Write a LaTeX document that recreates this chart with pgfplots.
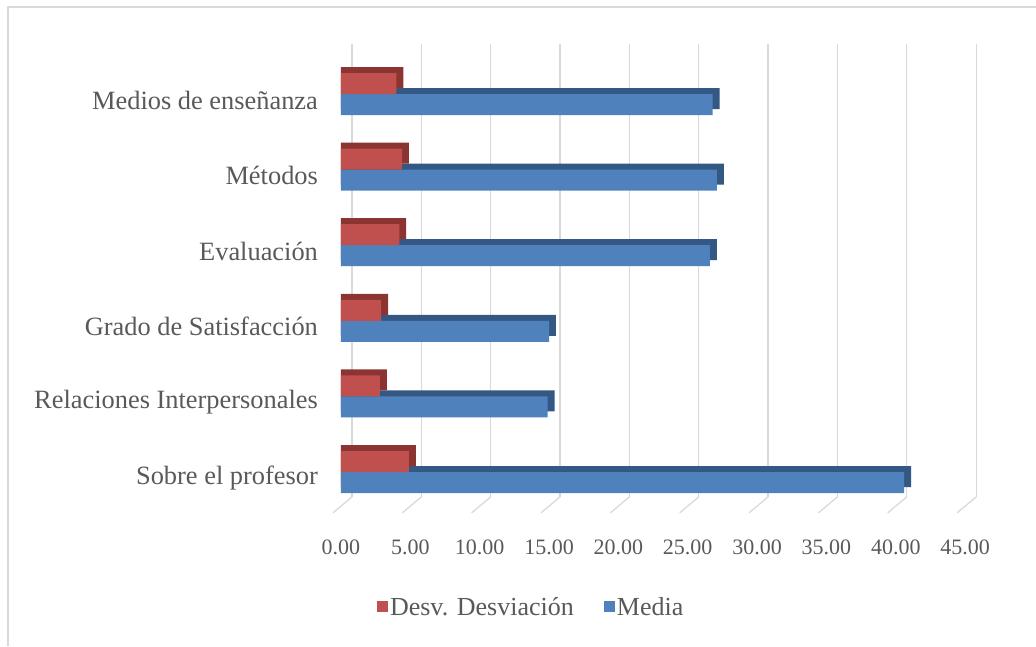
\documentclass[border=0pt]{standalone}
\usepackage{pgfplots}
\pgfplotsset{compat=1.18}
\usepackage{fontspec}
\setmainfont{Liberation Serif}

\definecolor{txtgray}{RGB}{89,89,89}
\definecolor{gridgray}{RGB}{217,217,217}
\definecolor{mblue}{RGB}{79,129,189}
\definecolor{mbluedark}{RGB}{52,88,132}
\definecolor{dred}{RGB}{192,80,77}
\definecolor{dreddark}{RGB}{140,52,50}

\begin{document}
\begin{tikzpicture}
\useasboundingbox (-341pt,-174pt) rectangle (695pt,472pt);
% chart frame
\draw[gridgray, line width=1.5pt] (-333pt,-174pt) -- (-333pt,465pt) -- (695pt,465pt);

\begin{axis}[
  anchor=origin, at={(0pt,0pt)},
  x=13.87pt, y=75.6pt,
  xmin=-1, xmax=46,
  ymin=-0.33, ymax=5.66,
  clip=false,
  axis line style={draw=none},
  major tick length=0pt,
  xmajorgrids,
  major grid style={gridgray, line width=1.3pt, xshift=11pt},
  xtick={0,5,...,45},
  xticklabels={0.00,5.00,10.00,15.00,20.00,25.00,30.00,35.00,40.00,45.00},
  xticklabel style={font=\fontsize{22}{26}\selectfont, text=txtgray, anchor=base, yshift=-58pt},
  ytick={0,...,5},
  yticklabels={Sobre el profesor,Relaciones Interpersonales,Grado de Satisfacción,Evaluación,Métodos,Medios de enseñanza},
  yticklabel style={font=\fontsize{26.4}{31}\selectfont, text=txtgray, anchor=east, inner sep=0pt, xshift=-9pt, yshift=-6pt},
  reverse legend,
  legend columns=2,
  legend style={draw=none, fill=none, at={(0.313,-0.243)}, anchor=center,
    font=\fontsize{26}{31}\selectfont, text=txtgray,
    /tikz/every even column/.append style={column sep=28pt}},
  legend image code/.code={\fill[#1] (0pt,-5pt) rectangle (11pt,6pt);},
]
% floor lines
\pgfplotsinvokeforeach{0,5,...,45}{
  \draw[gridgray, line width=1.3pt] (axis cs:#1-0.58,-0.54) -- (axis cs:#1+0.79,-0.33);
}
% Media: side/top face, then front face
\addplot[xbar, bar width=21pt, bar shift=-4.5pt, fill=mbluedark, draw=none, forget plot]
  coordinates {(41.1,0) (15.4,1) (15.5,2) (27.1,3) (27.6,4) (27.3,5)};
\addplot[xbar, bar width=21pt, bar shift=-10.5pt, fill=mblue, draw=none]
  coordinates {(40.6,0) (14.9,1) (15.0,2) (26.6,3) (27.1,4) (26.8,5)};
\addlegendentry{Media}
% Desv. Desviacion
\addplot[xbar, bar width=21pt, bar shift=16.5pt, fill=dreddark, draw=none, forget plot]
  coordinates {(5.4,0) (3.3,1) (3.4,2) (4.7,3) (4.9,4) (4.5,5)};
\addplot[xbar, bar width=21pt, bar shift=10.5pt, fill=dred, draw=none]
  coordinates {(4.9,0) (2.8,1) (2.9,2) (4.2,3) (4.4,4) (4.0,5)};
\addlegendentry{Desv. Desviación}
\end{axis}
\end{tikzpicture}
\end{document}
